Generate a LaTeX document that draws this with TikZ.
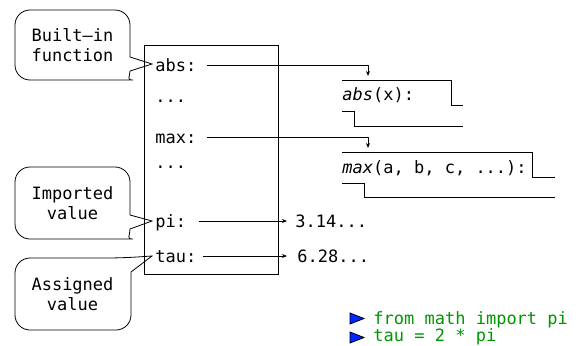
\documentclass[tikz,border=0pt]{standalone}
\usepackage{fontspec}
\setmainfont{DejaVu Sans Mono}
\setmonofont{DejaVu Sans Mono}
\usetikzlibrary{arrows.meta}
\definecolor{codegreen}{RGB}{0,150,0}
\definecolor{triblue}{RGB}{0,40,255}
\begin{document}
\begin{tikzpicture}[x=1pt,y=-1pt, line width=0.9pt,
  every node/.style={font=\fontsize{17}{20}\selectfont, inner sep=0pt},
  lbl/.style={anchor=base west},
  arr/.style={-{Stealth[length=5pt,width=4pt]}},
  callout/.style={draw, line width=0.8pt, rounded corners=14pt},
  tri/.style={fill=triblue, draw=black, line width=0.8pt}]
\useasboundingbox (0,0) rectangle (585,345);
% frame
\node[draw, line width=1pt, minimum width=134pt, minimum height=229pt, anchor=north west] (frame) at (144,45) {};
\node[lbl] (abs) at (155,71) {abs:};
\node[lbl] (d1) at (155,102) {...};
\node[lbl] (max) at (155,143) {max:};
\node[lbl] (d2) at (155,168) {...};
\node[lbl] (pi) at (155,227) {pi:};
\node[lbl] (tau) at (155,262) {tau:};
% function objects
\node[lbl] (absf) at (342,100) {\textit{abs}(x):};
\node[lbl] (maxf) at (342,173) {\textit{max}(a, b, c, ...):};
\coordinate (absin) at (368,76);
\coordinate (maxin) at (368,148);
\draw (342,80) -- (451,80) -- (451,105) -- (463,105);
\draw (342,111) -- (354,111) -- (354,126) -- (463,126);
\draw (342,152) -- (532,152) -- (532,177) -- (555,177);
\draw (342,183) -- (364,183) -- (364,197) -- (555,197);
% values
\node[lbl] (v1) at (295,227) {3.14...};
\node[lbl] (v2) at (297,262) {6.28...};
% connectors
\draw[arr] ([shift={(10,-6)}]abs.base east) -| (absin);
\draw[arr] ([shift={(10,-6)}]max.base east) -| (maxin);
\draw[arr] ([shift={(12,-6)}]pi.base east) -- ([shift={(-8,-6)}]v1.base west);
\draw[arr] ([shift={(6,-6)}]tau.base east) -- ([shift={(-10,-6)}]v2.base west);
% callouts
\node[align=center] (c1) at (72.5,45) {Built–in\\function};
\node[align=center] (c2) at (72.5,203) {Imported\\value};
\node[align=center] (c3) at (72.5,294) {Assigned\\value};
\draw[rounded corners=15pt, line width=0.8pt] (130,57) -- (130,10) -- (15,10) -- (15,80) -- (118,80) [sharp corners] .. controls (126,80) and (130,77) .. (130,71) -- (152,64) -- cycle;
\draw[rounded corners=15pt, line width=0.8pt] (130,215) -- (130,167) -- (15,167) -- (15,239) -- (118,239) [sharp corners] .. controls (126,239) and (130,236) .. (130,229) -- (152,221) -- cycle;
\draw[rounded corners=15pt, line width=0.8pt] (131,272) -- (131,330) -- (15,330) -- (15,258) -- (122,258) [sharp corners] -- (152,256) -- cycle;
% code
\fill[tri] (350,313) -- (364,318.5) -- (350,324) -- cycle;
\fill[tri] (350,332) -- (364,337.5) -- (350,343) -- cycle;
\node[lbl, text=codegreen] (code1) at (373,324) {from math import pi};
\node[lbl, text=codegreen] (code2) at (373,341) {tau = 2 * pi};
\end{tikzpicture}
\end{document}
